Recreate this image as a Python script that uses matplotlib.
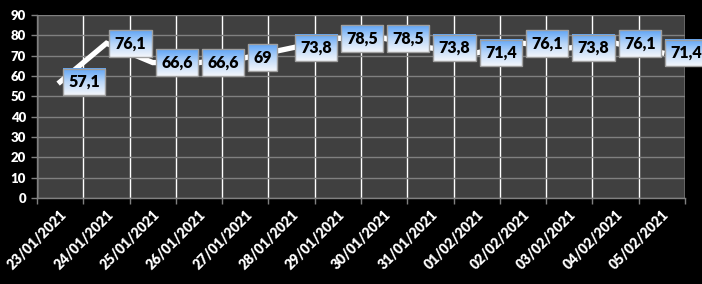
import matplotlib
matplotlib.use("Agg")
import matplotlib.pyplot as plt
import numpy as np
from matplotlib.patches import Rectangle
from matplotlib.colors import LinearSegmentedColormap

dates = ["23/01/2021", "24/01/2021", "25/01/2021", "26/01/2021", "27/01/2021",
         "28/01/2021", "29/01/2021", "30/01/2021", "31/01/2021", "01/02/2021",
         "02/02/2021", "03/02/2021", "04/02/2021", "05/02/2021"]
values = [57.1, 76.1, 66.6, 66.6, 69, 73.8, 78.5, 78.5, 73.8, 71.4, 76.1, 73.8, 76.1, 71.4]
labels = ["57,1", "76,1", "66,6", "66,6", "69", "73,8", "78,5", "78,5", "73,8",
          "71,4", "76,1", "73,8", "76,1", "71,4"]
yticks = [0, 10, 20, 30, 40, 50, 60, 70, 80, 90]

FONT = ["Lato", "DejaVu Sans"]

fig = plt.figure(figsize=(7.02, 2.84), dpi=100, facecolor="black")
ax = fig.add_axes([37/702, 1-198/284, (685-37)/702, (198-15)/284])
ax.set_facecolor("#404040")

x = np.arange(len(values))
ax.plot(x, values, color="white", lw=3.8, solid_joinstyle="miter", zorder=3)

ax.set_xlim(-0.5, len(values)-0.5)
ax.set_ylim(0, 90)
ax.set_yticks(yticks)
ax.set_yticklabels([str(v) for v in yticks], color="white", fontsize=9.5,
                   fontweight="heavy", family=FONT)
ax.set_xticks(x)
ax.set_xticklabels(dates, rotation=45, ha="right", va="top", rotation_mode="anchor",
                   color="white", fontsize=10, fontweight="heavy", family=FONT)
ax.set_xticks(np.arange(-0.5, len(values), 1), minor=True)
ax.tick_params(axis="x", which="major", length=0, pad=7)
ax.tick_params(axis="x", which="minor", length=4, color="#808080", width=1)
ax.tick_params(axis="y", length=4, color="#808080", width=1, pad=4)
ax.grid(axis="y", color="#808080", lw=1)
ax.grid(axis="x", which="minor", color="white", lw=1)
ax.set_axisbelow(True)
for s in ["top", "right"]:
    ax.spines[s].set_visible(False)
for s in ["left", "bottom"]:
    ax.spines[s].set_color("#808080")
    ax.spines[s].set_linewidth(1)

texts = []
for xi, v, lab in zip(x, values, labels):
    t = ax.annotate(lab, (xi, v), xytext=(6, 0), textcoords="offset points",
                    ha="left", va="center", fontsize=11.5, fontweight="heavy",
                    family=FONT, color="black", zorder=6,
                    bbox=dict(boxstyle="square,pad=0.33", fc="none", ec="none"),
                    annotation_clip=False)
    texts.append(t)

fig.canvas.draw()
cmap = LinearSegmentedColormap.from_list("g", ["#f3f6fb", "#b9d6f8", "#5ea4f6"])
grad = np.linspace(0, 1, 64).reshape(-1, 1)
inv = ax.transData.inverted()
for t in texts:
    bb = t.get_bbox_patch().get_window_extent()
    (x0, y0), (x1, y1) = inv.transform([[bb.x0, bb.y0], [bb.x1, bb.y1]])
    ax.imshow(grad, cmap=cmap, extent=[x0, x1, y0, y1], origin="lower",
              aspect="auto", zorder=5, clip_on=False, interpolation="bilinear")
    ax.add_patch(Rectangle((x0, y0), x1-x0, y1-y0, fill=False, ec="#a0a0a0",
                           lw=1, zorder=5.5, clip_on=False))
ax.set_xlim(-0.5, len(values)-0.5)
ax.set_ylim(0, 90)

fig.savefig("out.png", dpi=100, facecolor="black")
